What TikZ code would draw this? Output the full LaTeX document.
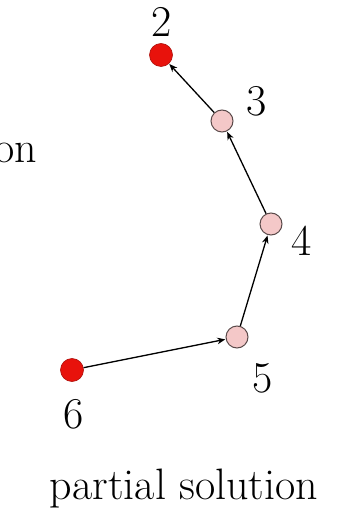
\documentclass[tikz,border=0pt]{standalone}
\usetikzlibrary{arrows.meta}
\definecolor{nodered}{HTML}{E8120C}
\definecolor{nodepink}{HTML}{F4C8C8}
\definecolor{rim}{HTML}{5A4A4A}
\begin{document}
\begin{tikzpicture}[x=1pt,y=-1pt,
  redv/.style={circle,fill=nodered,draw=nodered!75!black,line width=0.6pt,minimum size=23pt,inner sep=0pt},
  pinkv/.style={circle,fill=nodepink,draw=rim,line width=1pt,minimum size=22pt,inner sep=0pt},
  lbl/.style={font=\fontsize{44}{48}\selectfont,inner sep=0pt},
  edge/.style={line width=1.3pt,-{Stealth[length=8pt,width=6.5pt]},shorten >=0.5pt}]
\useasboundingbox (0,0) rectangle (342,510);
\node[redv] (n2) at (161,55) {};
\node[pinkv] (n3) at (222,121) {};
\node[pinkv] (n4) at (271,224) {};
\node[pinkv] (n5) at (237,337) {};
\node[redv] (n6) at (72,370) {};
\node[lbl] (l2) at (162,22) {2};
\node[lbl] (l3) at (257,101) {3};
\node[lbl] (l4) at (302,241) {4};
\node[lbl] (l5) at (263,378) {5};
\node[lbl] (l6) at (74,414) {6};
\node[lbl,anchor=base east] (lon) at (37,163) {on};
\node[lbl,anchor=base] (ps) at (184,499) {partial solution};
\draw[edge] (n3) -- (n2);
\draw[edge] (n4) -- (n3);
\draw[edge] (n5) -- (n4);
\draw[edge] (n6) -- (n5);
\end{tikzpicture}
\end{document}
